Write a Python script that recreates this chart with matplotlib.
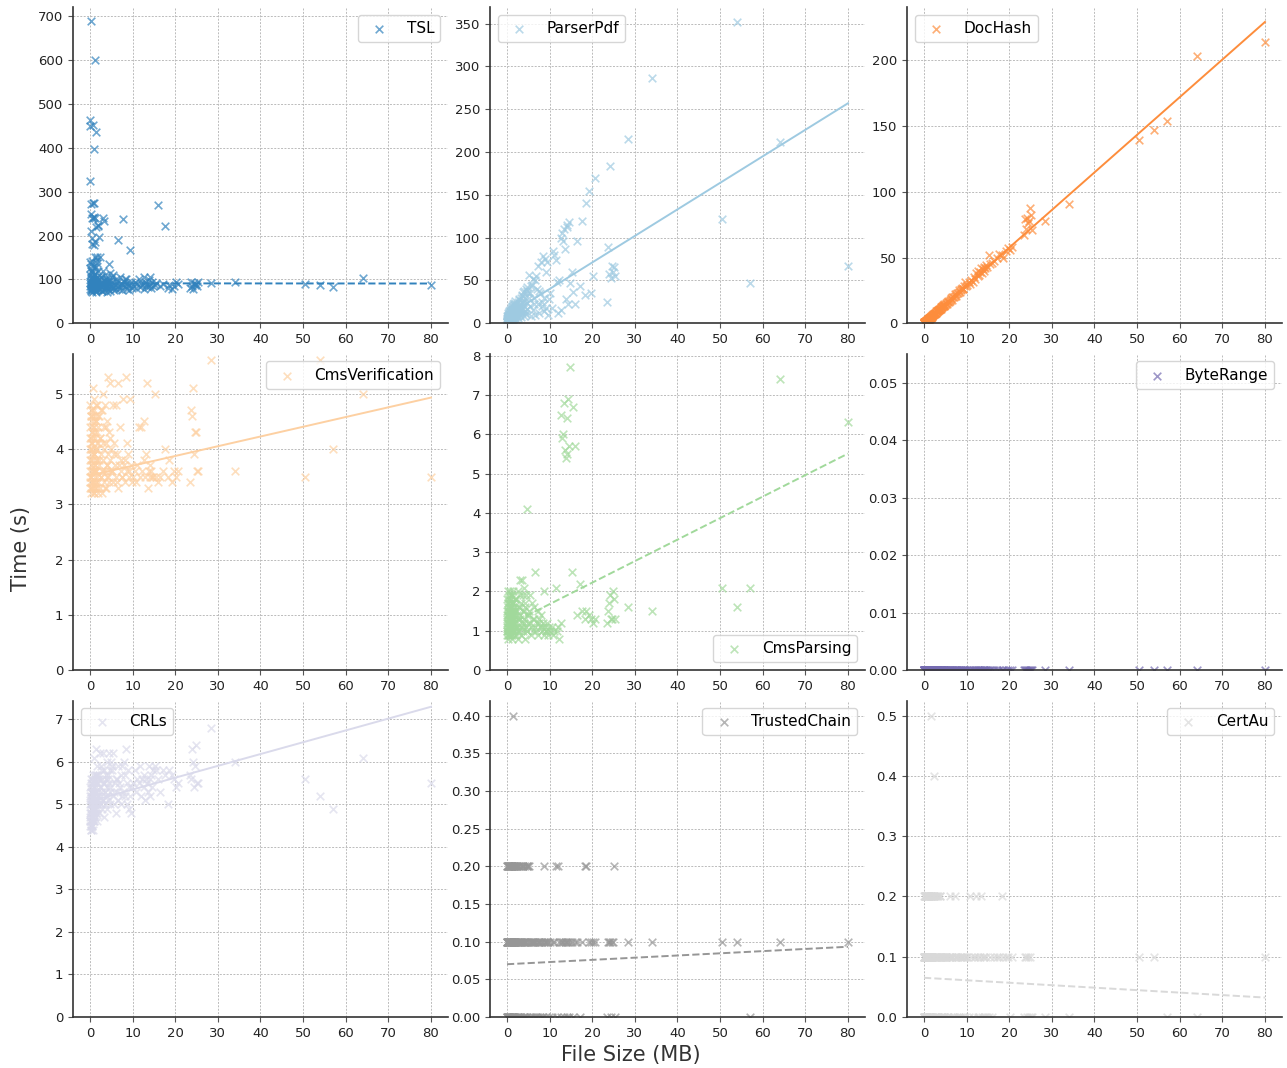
import matplotlib
matplotlib.use("Agg")
import matplotlib.pyplot as plt
import numpy as np

# ---------------- data ----------------
file_size = [
    80, 64, 57, 54, 50.5, 34, 28.5,
    23.5, 23.8, 24.0, 24.2, 24.4, 24.6, 24.9, 25.1, 25.4,
    15.2, 15.6, 16.0, 16.5, 17.2, 17.7, 18.2, 18.6, 19.2, 19.7, 20.2, 20.6,
    10.2, 10.5, 10.8, 11.1, 11.4, 11.7, 12.0, 12.3, 12.6, 12.8, 13.0, 13.2, 13.4, 13.6, 13.8, 14.0, 14.2, 14.4, 14.6, 14.9,
    5.1, 5.3, 5.5, 5.6, 5.8, 6.0, 6.2, 6.4, 6.5, 6.7, 7.0, 7.2, 7.4, 7.5, 7.7, 8.0, 8.2, 8.5, 8.6, 8.8, 9.0, 9.2, 9.5, 9.6, 9.8,
    2.0, 2.1, 2.2, 2.3, 2.4, 2.5, 2.6, 2.7, 2.8, 2.9, 3.0, 3.1, 3.2, 3.3, 3.4, 3.5, 3.6, 3.7, 3.8, 3.9,
    4.0, 4.1, 4.2, 4.3, 4.4, 4.5, 4.6, 4.7, 4.8, 4.9,
    0.02, 0.05, 0.08, 0.1, 0.12, 0.15, 0.2, 0.25, 0.3, 0.35, 0.4, 0.45, 0.5, 0.55, 0.6, 0.65, 0.7, 0.75, 0.8, 0.85,
    0.9, 0.95, 1.0, 1.05, 1.1, 1.15, 1.2, 1.25, 1.3, 1.35, 1.4, 1.45, 1.5, 1.55, 1.6, 1.65, 1.7, 1.8, 1.85, 1.9,
    0.03, 0.07, 0.18, 0.22, 0.28, 0.33, 0.38, 0.42, 0.48, 0.58, 0.68, 0.78, 0.88, 0.98, 1.08, 1.18, 1.28, 1.38, 1.48, 1.58,
    0.04, 0.09, 0.14, 0.19, 0.24, 0.29, 0.34, 0.44, 0.54, 0.64, 0.74, 0.84, 0.94, 1.04, 1.14, 1.24, 1.34, 1.44, 1.54, 1.64,
    1.74, 1.94, 2.15, 2.35, 2.55, 2.75, 2.95, 3.15, 3.45, 3.75, 4.05, 4.35, 4.65, 5.2, 5.7, 6.3, 6.9, 7.6, 8.3, 9.1,
]

tsl_time = [
    88, 103, 83, 88, 90, 93, 92,
    80, 95, 85, 78, 92, 88, 90, 86, 94,
    88, 92, 270, 85, 90, 221, 80, 88, 78, 85, 95, 90,
    85, 95, 80, 90, 100, 82, 92, 88, 105, 78, 95, 86, 90, 83, 98, 105, 88, 80, 93, 86,
    95, 80, 110, 75, 88, 100, 78, 92, 85, 190, 105, 82, 90, 76, 238, 95, 86, 100, 79, 92, 84, 88, 167, 95, 80,
    225, 88, 196, 150, 78, 95, 82, 105, 74, 90, 240, 85, 98, 232, 76, 92, 110, 80, 88, 72,
    100, 84, 94, 78, 90, 135, 82, 96, 115, 86,
    110, 450, 140, 463, 325, 272, 248, 690, 210, 95, 240, 80, 195, 120, 180, 240, 275, 100, 452, 242,
    178, 130, 397, 275, 185, 85, 240, 600, 150, 90, 436, 75, 220, 105, 152, 82, 145, 98, 118, 221,
    85, 125, 75, 100, 90, 135, 78, 115, 88, 72, 105, 92, 80, 112, 76, 98, 84, 128, 94, 79,
    92, 78, 104, 86, 118, 74, 96, 142, 82, 108, 88, 76, 126, 94, 80, 112, 72, 100, 85, 138,
    90, 77, 98, 84, 106, 73, 91, 120, 79, 102, 87, 96, 74, 105, 83, 97, 78, 89, 101, 76,
]

parserpdf_time = [
    67, 212, 47, 352, 122, 287, 215,
    25, 89, 57, 184, 53, 67, 60, 66, 55,
    60, 37, 23, 96, 44, 120, 33, 141, 155, 35, 55, 170,
    35, 18, 85, 80, 74, 48, 12, 50, 15, 100, 106, 96, 110, 87, 28, 113, 115, 22, 118, 47,
    56, 20, 35, 8, 45, 52, 15, 30, 50, 10, 40, 22, 67, 12, 35, 72, 25, 78, 14, 30, 75, 18, 72, 10, 28,
    18, 5, 12, 22, 8, 15, 25, 6, 18, 28, 10, 20, 30, 7, 15, 33, 12, 25, 36, 9,
    20, 38, 14, 30, 40, 11, 24, 42, 17, 35,
    2, 5, 1, 8, 3, 4, 10, 2, 6, 12, 3, 7, 14, 4, 9, 2, 16, 6, 11, 3,
    18, 7, 5, 13, 20, 4, 9, 15, 6, 22, 11, 3, 17, 8, 24, 5, 13, 26, 9, 16,
    4, 6, 2, 7, 9, 3, 11, 5, 8, 13, 5, 10, 15, 4, 9, 19, 7, 12, 5, 21,
    1, 3, 6, 2, 9, 4, 7, 5, 11, 8, 3, 14, 6, 10, 17, 7, 12, 20, 9, 15,
    6, 23, 11, 19, 8, 27, 14, 22, 32, 17, 26, 12, 38, 30, 44, 22, 55, 38, 20, 60,
]

dochash_time = [
    214, 203, 154, 147, 139, 91, 78,
    67, 79, 72, 80, 76, 78, 88, 82, 71,
    52, 45, 46, 47, 50, 53, 52, 50, 55, 57, 56, 58,
    29, 31, 30, 33, 31, 35, 34, 38, 36, 40, 37, 39, 42, 38, 41, 43, 40, 42, 44, 43,
    15, 15, 16, 17, 16, 18, 17, 19, 18, 20, 20, 21, 22, 21, 23, 23, 25, 24, 26, 25, 27, 26, 28, 31, 28,
    6, 6, 7, 7, 7, 8, 7, 8, 8, 9, 9, 9, 10, 9, 10, 11, 10, 11, 11, 12,
    12, 11, 13, 12, 13, 14, 13, 14, 15, 14,
    0.5, 0.3, 0.6, 0.4, 0.8, 0.5, 0.9, 0.7, 1.1, 0.9, 1.3, 1.2, 1.6, 1.5, 1.9, 1.7, 2.2, 2.0, 2.5, 2.3,
    2.8, 2.6, 3.0, 2.9, 3.3, 3.1, 3.6, 3.4, 3.9, 3.7, 4.2, 3.9, 4.5, 4.3, 4.8, 4.6, 5.1, 5.0, 5.5, 5.3,
    0.2, 0.4, 0.6, 0.8, 0.9, 1.0, 1.2, 1.4, 1.5, 1.8, 2.0, 2.3, 2.6, 2.9, 3.2, 3.5, 3.7, 4.0, 4.3, 4.6,
    0.3, 0.4, 0.6, 0.7, 0.8, 1.0, 1.1, 1.4, 1.7, 2.0, 2.2, 2.5, 2.8, 3.1, 3.4, 3.7, 4.0, 4.3, 4.6, 4.9,
    5.2, 5.7, 6.3, 6.9, 7.5, 8.0, 8.6, 9.2, 10.0, 11.0, 11.8, 12.6, 13.5, 15.2, 16.5, 18.3, 20.0, 22.0, 24.0, 26.3,
]

cmsverification_time = [
    3.5, 5.0, 4.0, 5.6, 3.5, 3.6, 5.6,
    3.4, 4.7, 4.6, 5.1, 3.9, 4.3, 4.3, 3.6, 3.6,
    5.0, 3.5, 3.4, 3.5, 3.6, 4.0, 3.5, 3.8, 3.4, 3.6, 3.5, 3.6,
    3.5, 3.6, 3.4, 3.7, 4.4, 3.5, 4.4, 3.6, 3.8, 4.5, 3.5, 3.9, 5.2, 3.3, 3.6, 3.7, 3.5, 3.6, 3.5, 3.5,
    3.6, 4.8, 3.4, 4.1, 3.7, 3.5, 4.8, 3.9, 3.3, 5.2, 4.4, 3.6, 3.8, 3.5, 4.9, 3.7, 3.4, 5.3, 4.1, 3.6,
    3.9, 3.5, 4.9, 3.7, 3.4,
    3.4, 4.6, 3.7, 3.3, 4.2, 3.9, 3.5, 4.7, 3.6, 3.2, 5.0, 3.8, 4.4, 3.4, 4.0, 3.6, 4.8, 3.3, 4.1, 3.7,
    4.5, 3.5, 5.3, 3.9, 3.4, 4.3, 3.6, 5.2, 3.8, 4.0,
    3.3, 4.2, 3.6, 4.8, 3.4, 3.9, 4.5, 3.2, 4.0, 3.5, 4.7, 3.7, 4.3, 3.3, 4.1, 3.8, 4.6, 3.4, 5.1, 3.6,
    4.4, 3.2, 3.9, 4.9, 3.5, 4.2, 3.7, 4.6, 3.3, 4.0, 3.6, 4.5, 3.4, 4.8, 3.8, 4.3, 3.5, 4.1, 3.2, 4.4,
    3.8, 4.4, 3.5, 4.1, 3.7, 4.6, 3.3, 4.0, 3.6, 4.3, 3.4, 4.2, 3.9, 4.7, 3.6, 4.0, 3.3, 4.5, 3.8, 4.1,
    4.0, 3.5, 4.6, 3.3, 4.2, 3.8, 4.7, 3.4, 4.1, 3.6, 4.4, 3.2, 3.9, 4.5, 3.7, 4.3, 3.4, 4.8, 3.6, 4.0,
    3.3, 4.6, 3.8, 4.2, 3.5, 4.7, 3.6, 4.1, 3.3, 4.4, 3.7, 3.5, 4.2, 3.6, 3.9, 3.4, 3.7, 3.5, 3.8, 3.6,
]

cmsparsing_time = [
    6.3, 7.4, 2.1, 1.6, 2.1, 1.5, 1.6,
    1.2, 1.5, 1.7, 1.9, 1.3, 1.3, 2.0, 1.8, 1.3,
    2.5, 6.7, 5.7, 1.4, 2.2, 1.5, 1.3, 1.5, 1.4, 1.3, 1.2, 1.3,
    1.0, 1.1, 0.9, 1.0, 2.1, 1.0, 1.1, 0.8, 1.2, 6.5, 5.9, 6.0, 6.8, 5.6, 5.4, 6.4, 5.5, 6.9, 5.7, 7.7,
    1.5, 1.9, 1.2, 0.9, 1.7, 1.3, 1.0, 1.6, 1.1, 2.5, 1.2, 1.5, 0.9, 1.3, 1.1, 1.4, 1.0, 1.2, 0.9, 2.0,
    1.1, 1.0, 1.2, 0.9, 1.1,
    1.2, 1.8, 0.9, 1.5, 1.1, 2.0, 1.3, 0.8, 1.6, 1.0, 2.3, 1.4, 1.1, 1.7, 0.9, 2.3, 1.2, 1.9, 1.0, 1.5,
    2.1, 1.3, 0.8, 1.6, 1.1, 1.9, 1.0, 4.1, 1.4, 1.2,
    1.1, 1.5, 0.9, 1.8, 1.2, 1.4, 2.0, 1.0, 1.6, 0.8, 1.3, 1.9, 1.1, 1.5, 0.9, 1.7, 1.2, 2.0, 1.0, 1.4,
    1.8, 0.9, 1.3, 1.6, 1.1, 1.9, 0.8, 1.5, 1.2, 1.7, 1.0, 1.4, 2.0, 1.1, 1.6, 0.9, 1.3, 1.8, 1.0, 1.5,
    1.3, 1.0, 1.7, 1.2, 1.4, 1.1, 1.6, 0.9, 1.5, 1.2, 1.4, 1.1, 1.6, 1.2, 1.7, 1.3, 1.0, 1.5, 1.2, 1.4,
    1.4, 1.0, 1.7, 1.2, 0.9, 1.5, 1.1, 1.8, 1.3, 1.0, 1.6, 1.2, 1.9, 1.1, 1.4, 0.9, 1.7, 1.3, 1.0, 1.5,
    1.2, 1.8, 1.1, 1.4, 1.0, 1.6, 1.3, 1.9, 1.1, 1.5, 1.2, 1.7, 1.0, 1.4, 1.1, 1.3, 1.0, 1.2, 1.1, 1.0,
]

byterange_time = [
    0, 0, 0, 0, 0, 0, 0,
    0, 0, 0, 0, 0, 0, 0, 0, 0,
    0, 0, 0, 0, 0, 0, 0, 0, 0, 0, 0, 0,
    0, 0, 0, 0, 0, 0, 0, 0, 0, 0, 0, 0, 0, 0, 0, 0, 0, 0, 0, 0,
    0, 0, 0, 0, 0, 0, 0, 0, 0, 0, 0, 0, 0, 0, 0, 0, 0, 0, 0, 0, 0, 0, 0, 0, 0,
    0, 0, 0, 0, 0, 0, 0, 0, 0, 0, 0, 0, 0, 0, 0, 0, 0, 0, 0, 0,
    0, 0, 0, 0, 0, 0, 0, 0, 0, 0,
    0, 0, 0, 0, 0, 0, 0, 0, 0, 0, 0, 0, 0, 0, 0, 0, 0, 0, 0, 0,
    0, 0, 0, 0, 0, 0, 0, 0, 0, 0, 0, 0, 0, 0, 0, 0, 0, 0, 0, 0,
    0, 0, 0, 0, 0, 0, 0, 0, 0, 0, 0, 0, 0, 0, 0, 0, 0, 0, 0, 0,
    0, 0, 0, 0, 0, 0, 0, 0, 0, 0, 0, 0, 0, 0, 0, 0, 0, 0, 0, 0,
    0, 0, 0, 0, 0, 0, 0, 0, 0, 0, 0, 0, 0, 0, 0, 0, 0, 0, 0, 0,
]

crls_time = [
    5.5, 6.1, 4.9, 5.2, 5.6, 6.0, 6.8,
    5.7, 5.6, 6.3, 6.0, 5.4, 5.9, 6.4, 5.5, 5.5,
    5.9, 5.8, 5.6, 5.3, 5.8, 5.7, 5.0, 5.8, 5.7, 5.6, 5.4, 5.5,
    5.5, 5.8, 5.3, 5.6, 5.5, 5.9, 5.2, 5.6, 5.4, 5.7, 5.1, 5.6, 5.5, 5.3, 5.9, 5.6, 5.2, 5.7, 5.4, 5.8,
    5.8, 5.2, 6.2, 5.0, 5.5, 4.8, 5.6, 5.3, 5.9, 5.1, 5.4, 5.7, 5.0, 5.9, 5.3, 6.0, 5.2, 6.3, 5.0, 5.5,
    5.8, 4.9, 5.2, 4.8, 5.4,
    5.2, 5.7, 4.8, 6.2, 5.4, 5.0, 5.9, 5.3, 4.9, 5.6, 6.2, 5.1, 5.5, 4.7, 5.8, 5.3, 5.0, 5.6, 5.2, 6.0,
    5.4, 4.9, 5.7, 5.1, 6.2, 5.5, 5.0, 5.8, 5.3, 6.0,
    4.5, 5.0, 4.7, 5.4, 4.6, 5.2, 4.4, 4.9, 5.6, 4.8, 5.1, 4.5, 5.3, 4.7, 5.5, 4.6, 5.0, 5.7, 4.4, 5.2,
    4.8, 6.1, 5.4, 4.6, 5.0, 5.6, 4.7, 5.3, 4.9, 5.7, 5.1, 6.3, 4.8, 5.5, 5.0, 5.9, 4.6, 5.3, 5.1, 5.6,
    4.8, 5.2, 4.6, 5.0, 4.7, 5.3, 4.5, 5.1, 4.9, 5.4, 4.8, 5.2, 5.0, 5.5, 4.9, 5.3, 5.1, 5.4, 5.2, 5.7,
    4.6, 5.1, 4.4, 5.5, 4.8, 5.3, 4.5, 5.0, 5.6, 4.7, 5.2, 4.9, 5.4, 4.6, 5.1, 5.7, 4.8, 5.3, 5.0, 5.5,
    4.9, 5.2, 5.6, 5.0, 5.4, 5.8, 5.1, 5.5, 5.3, 5.7, 5.2, 5.6, 5.4, 5.9, 5.3, 5.6, 5.5, 5.2, 5.7, 5.4,
]

trustedchain_time = [
    0.1, 0.1, 0.0, 0.1, 0.1, 0.1, 0.1,
    0.0, 0.1, 0.1, 0.1, 0.0, 0.1, 0.1, 0.2, 0.0,
    0.1, 0.0, 0.1, 0.1, 0.0, 0.1, 0.2, 0.2, 0.1, 0.1, 0.1, 0.1,
    0.1, 0.0, 0.1, 0.1, 0.2, 0.0, 0.2, 0.1, 0.1, 0.0, 0.1, 0.1, 0.0, 0.1, 0.1, 0.0, 0.1, 0.1, 0.0, 0.1,
    0.2, 0.1, 0.0, 0.1, 0.1, 0.0, 0.1, 0.1, 0.0, 0.1, 0.1, 0.0, 0.1, 0.1, 0.0, 0.1, 0.1, 0.0, 0.1, 0.2,
    0.1, 0.0, 0.1, 0.1, 0.0,
    0.2, 0.1, 0.0, 0.1, 0.2, 0.1, 0.0, 0.2, 0.1, 0.0, 0.1, 0.2, 0.1, 0.0, 0.1, 0.2, 0.1, 0.0, 0.2, 0.1,
    0.0, 0.1, 0.2, 0.1, 0.0, 0.1, 0.2, 0.1, 0.0, 0.2,
    0.1, 0.0, 0.2, 0.1, 0.0, 0.1, 0.2, 0.1, 0.0, 0.1, 0.2, 0.0, 0.1, 0.1, 0.2, 0.0, 0.1, 0.2, 0.1, 0.0,
    0.1, 0.2, 0.0, 0.1, 0.2, 0.1, 0.0, 0.1, 0.2, 0.0, 0.1, 0.4, 0.2, 0.1, 0.0, 0.2, 0.1, 0.0, 0.2, 0.1,
    0.2, 0.1, 0.0, 0.1, 0.2, 0.0, 0.1, 0.2, 0.0, 0.1, 0.2, 0.0, 0.1, 0.2, 0.0, 0.1, 0.2, 0.1, 0.0, 0.2,
    0.1, 0.0, 0.2, 0.1, 0.0, 0.2, 0.1, 0.0, 0.1, 0.2, 0.0, 0.1, 0.2, 0.1, 0.0, 0.2, 0.1, 0.0, 0.1, 0.2,
    0.0, 0.1, 0.2, 0.1, 0.0, 0.2, 0.1, 0.0, 0.1, 0.2, 0.0, 0.1, 0.2, 0.1, 0.0, 0.1, 0.0, 0.1, 0.0, 0.1,
]

certau_time = [
    0.1, 0.0, 0.0, 0.1, 0.1, 0.0, 0.0,
    0.0, 0.1, 0.1, 0.0, 0.1, 0.0, 0.1, 0.0, 0.0,
    0.0, 0.1, 0.0, 0.1, 0.1, 0.1, 0.2, 0.1, 0.1, 0.1, 0.0, 0.1,
    0.1, 0.0, 0.2, 0.1, 0.0, 0.1, 0.1, 0.2, 0.0, 0.1, 0.0, 0.1, 0.2, 0.0, 0.1, 0.0, 0.1, 0.0, 0.1, 0.0,
    0.1, 0.0, 0.1, 0.0, 0.1, 0.1, 0.2, 0.0, 0.1, 0.1, 0.0, 0.1, 0.2, 0.1, 0.0, 0.1, 0.0, 0.1, 0.1, 0.0,
    0.1, 0.0, 0.1, 0.0, 0.1,
    0.1, 0.2, 0.0, 0.4, 0.2, 0.0, 0.1, 0.2, 0.1, 0.0, 0.2, 0.1, 0.0, 0.1, 0.2, 0.1, 0.0, 0.1, 0.2, 0.1,
    0.0, 0.1, 0.0, 0.1, 0.0, 0.1, 0.0, 0.1, 0.0, 0.1,
    0.0, 0.1, 0.2, 0.0, 0.1, 0.2, 0.1, 0.0, 0.1, 0.2, 0.0, 0.1, 0.1, 0.2, 0.0, 0.1, 0.2, 0.0, 0.1, 0.1,
    0.2, 0.0, 0.1, 0.2, 0.0, 0.1, 0.1, 0.2, 0.0, 0.1, 0.2, 0.0, 0.1, 0.2, 0.1, 0.0, 0.5, 0.1, 0.2, 0.0,
    0.1, 0.0, 0.2, 0.1, 0.0, 0.1, 0.2, 0.0, 0.1, 0.2, 0.0, 0.1, 0.2, 0.1, 0.0, 0.2, 0.1, 0.0, 0.1, 0.2,
    0.0, 0.1, 0.2, 0.0, 0.1, 0.2, 0.1, 0.0, 0.1, 0.2, 0.0, 0.1, 0.2, 0.1, 0.0, 0.2, 0.1, 0.0, 0.1, 0.2,
    0.0, 0.1, 0.2, 0.1, 0.0, 0.2, 0.1, 0.0, 0.1, 0.2, 0.0, 0.1, 0.0, 0.1, 0.0, 0.1, 0.0, 0.1, 0.0, 0.1,
]

series_names = ["TSL", "ParserPdf", "DocHash", "CmsVerification", "CmsParsing",
                "ByteRange", "CRLs", "TrustedChain", "CertAu"]
series_times = [tsl_time, parserpdf_time, dochash_time, cmsverification_time, cmsparsing_time,
                byterange_time, crls_time, trustedchain_time, certau_time]

# linear trend lines (intercept, slope)
fit_intercept = [91.0, 9.0, 0.3, 3.52, 1.13, None, 5.07, 0.070, 0.065]
fit_slope = [-0.005, 3.1, 2.86, 0.0176, 0.0547, None, 0.0278, 0.00029, -0.00041]

# ---------------- styles ----------------
fit_linestyle = ["--", "-", "-", "-", "--", None, "-", "--", "--"]
legend_loc = ["upper right", "upper left", "upper left", "upper right", "lower right",
              "upper right", "upper left", "upper right", "upper right"]
colors = plt.cm.tab20c(np.linspace(0, 1, 9))

fig = plt.figure(figsize=(12.87, 10.68), dpi=100)
axes = fig.subplots(3, 3)
fig.subplots_adjust(left=0.0567, right=0.9961, top=0.9935, bottom=0.0478,
                    wspace=0.112, hspace=0.0965)

x_arr = np.asarray(file_size, dtype=float)
x_line = np.array([x_arr.min(), x_arr.max()])

for i, ax in enumerate(axes.flat):
    y = np.asarray(series_times[i], dtype=float)
    ax.scatter(x_arr, y, marker="x", color=colors[i], alpha=0.7, s=30,
               linewidths=1.2, label=series_names[i])
    if fit_intercept[i] is not None:
        ax.plot(x_line, fit_intercept[i] + fit_slope[i] * x_line,
                color=colors[i], linestyle=fit_linestyle[i], linewidth=1.4)
    ax.set_ylim(bottom=0)
    ax.grid(True, linestyle=(0, (2, 1.5)), color="#bbbbbb", linewidth=0.7)
    ax.set_axisbelow(True)
    for s in ("top", "right"):
        ax.spines[s].set_visible(False)
    for s in ("left", "bottom"):
        ax.spines[s].set_color("#333333")
        ax.spines[s].set_linewidth(1.2)
    ax.tick_params(labelsize=9.5, length=3.5, color="#555555", labelcolor="#222222")
    ax.legend(loc=legend_loc[i], fontsize=11)

fig.text(0.0163, 0.486, "Time (s)", rotation=90, ha="center", va="center",
         fontsize=15, color="#333333")
fig.text(0.490, 0.0122, "File Size (MB)", ha="center", va="center",
         fontsize=15, color="#333333")

fig.savefig("out.png", dpi=100)
